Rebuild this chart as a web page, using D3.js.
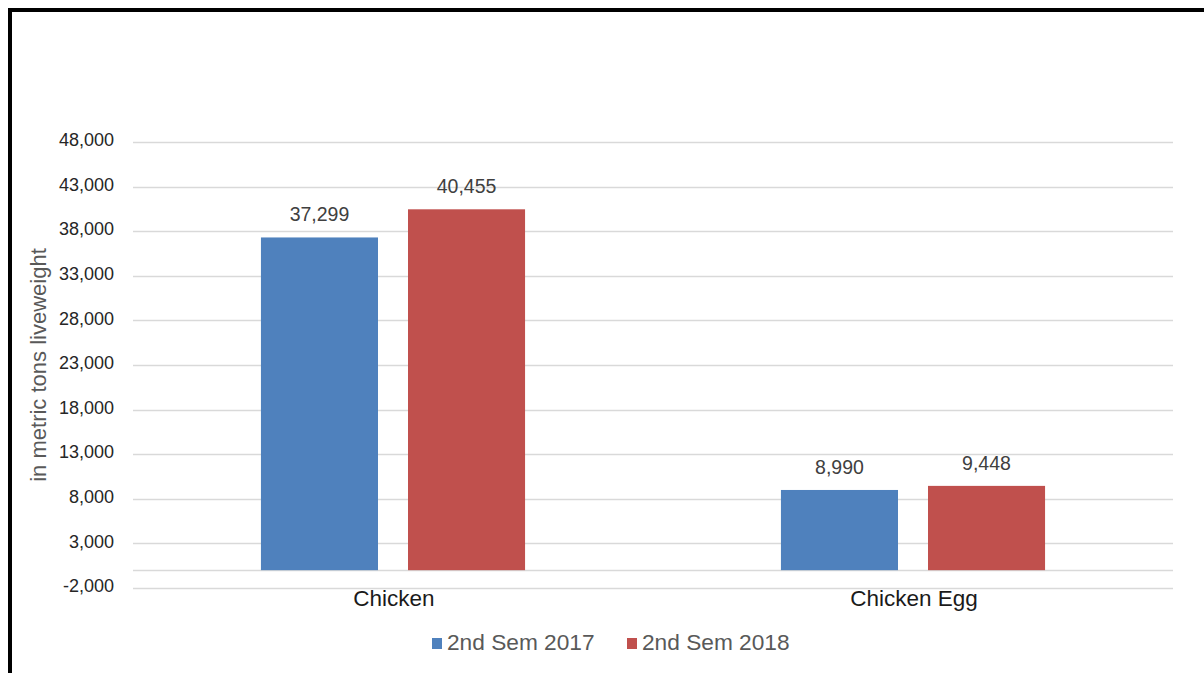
<!DOCTYPE html>
<html><head><meta charset="utf-8">
<script src="https://cdn.jsdelivr.net/npm/d3@7"></script>
<style>body{margin:0;background:#fff}svg{display:block;font-family:"Liberation Sans",Arial,sans-serif}</style>
</head><body><svg id="c" width="1204" height="673"></svg>
<script>
const categories = ["Chicken", "Chicken Egg"];
const seriesNames = ["2nd Sem 2017", "2nd Sem 2018"];
const sem2017 = [37299, 8990];
const sem2018 = [40455, 9448];
const tickValues = [-2000, 3000, 8000, 13000, 18000, 23000, 28000, 33000, 38000, 43000, 48000];
const colors = ["#4F81BD", "#C0504D"];

const svg = d3.select("#c");
const W = 1204, H = 673;
svg.append("rect").attr("width", W).attr("height", H).attr("fill", "#fff");

const x0 = d3.scaleBand().domain(categories).range([133, 1173]).padding(0);
const x1 = d3.scaleBand().domain(seriesNames).range([0, x0.bandwidth()]).paddingInner(0.204).paddingOuter(0.87);
const y = d3.scaleLinear().domain([-2000, 48000]).range([588, 142]);
const fmt = v => d3.format(",")(v).replace("\u2212", "-");

// gridlines
svg.append("g").selectAll("line").data(tickValues.concat([0])).join("line")
  .attr("x1", 133).attr("x2", 1173)
  .attr("y1", d => Math.round(y(d)) + 0.5).attr("y2", d => Math.round(y(d)) + 0.5)
  .attr("stroke", "#d9d9d9").attr("stroke-width", 1.5);

// y axis labels
const yAxis = d3.axisLeft(y).tickValues(tickValues).tickSize(0).tickPadding(0)
  .tickFormat(fmt);
const ya = svg.append("g").attr("transform", "translate(114,-2)").call(yAxis);
ya.select(".domain").remove();
ya.selectAll("text").attr("font-size", 18).attr("fill", "#262626")
  .attr("font-family", "'Liberation Sans', Arial, sans-serif");

// y axis title
svg.append("text").attr("transform", "translate(46,365) rotate(-90)")
  .attr("text-anchor", "middle").attr("font-size", 22).attr("fill", "#595959")
  .text("in metric tons liveweight");

// bars
const data = categories.map((c, i) => ({cat: c, vals: [sem2017[i], sem2018[i]]}));
const groups = svg.append("g").selectAll("g").data(data).join("g")
  .attr("transform", d => `translate(${x0(d.cat)},0)`);
groups.selectAll("rect").data(d => d.vals.map((v, j) => ({s: seriesNames[j], v, j}))).join("rect")
  .attr("x", d => x1(d.s)).attr("width", x1.bandwidth())
  .attr("y", d => y(d.v)).attr("height", d => y(0) - y(d.v))
  .attr("fill", d => colors[d.j]);
groups.selectAll("text").data(d => d.vals.map((v, j) => ({s: seriesNames[j], v, j}))).join("text")
  .attr("x", d => x1(d.s) + x1.bandwidth() / 2).attr("y", d => y(d.v) - 16)
  .attr("text-anchor", "middle").attr("font-size", 19.5).attr("fill", "#404040")
  .text(d => fmt(d.v));

// category labels
svg.append("g").selectAll("text").data(categories).join("text")
  .attr("x", d => x0(d) + x0.bandwidth() / 2 + 1).attr("y", 606)
  .attr("text-anchor", "middle").attr("font-size", 22.5).attr("fill", "#1a1a1a")
  .text(d => d);

// legend
const legendX = [432, 627];
const lg = svg.append("g").selectAll("g").data(seriesNames).join("g")
  .attr("transform", (d, i) => `translate(${legendX[i]},0)`);
lg.append("rect").attr("x", 0).attr("y", 638).attr("width", 10).attr("height", 11)
  .attr("fill", (d, i) => colors[i]);
lg.append("text").attr("x", 15).attr("y", 650).attr("font-size", 22.7).attr("fill", "#595959")
  .text(d => d);

// frame
svg.append("rect").attr("x", 8).attr("y", 8).attr("width", W - 8).attr("height", 4).attr("fill", "#000");
svg.append("rect").attr("x", 8).attr("y", 8).attr("width", 4).attr("height", H - 8).attr("fill", "#000");
</script></body></html>
